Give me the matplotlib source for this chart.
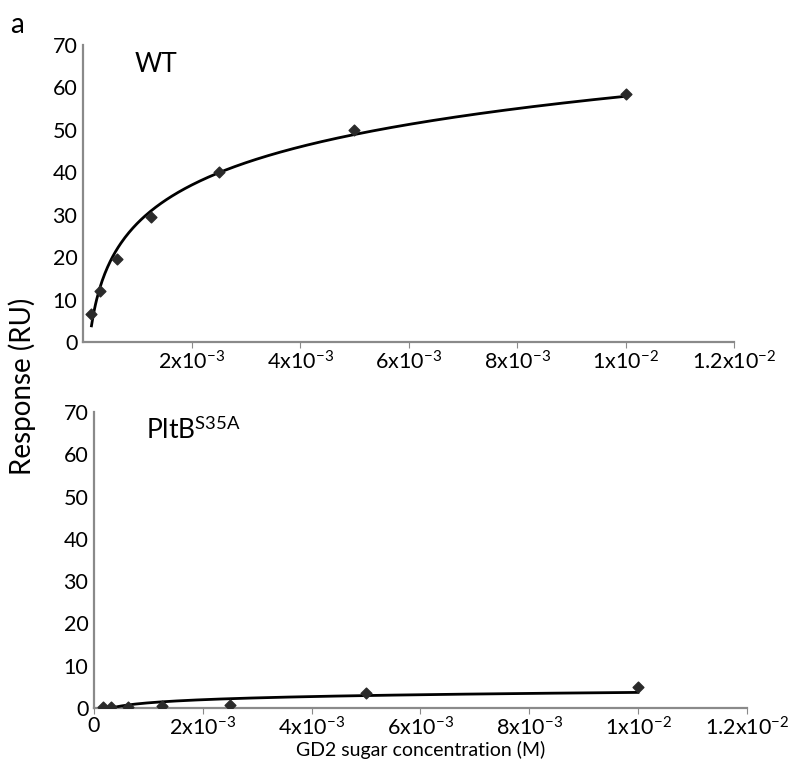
import numpy as np
import matplotlib.pyplot as plt

plt.rcParams['font.family'] = ['Lato', 'DejaVu Sans']
plt.rcParams['mathtext.fontset'] = 'custom'
plt.rcParams['mathtext.rm'] = 'Lato'
plt.rcParams['mathtext.it'] = 'Lato:italic'

# GD2 concentrations (M), two-fold dilution series
conc = np.array([1.5625e-4, 3.125e-4, 6.25e-4, 1.25e-3, 2.5e-3, 5e-3, 1e-2])
# responses (RU)
resp_wt = np.array([6.5, 12.0, 19.5, 29.5, 40.0, 50.0, 58.5])
resp_mut = np.array([0.2, 0.3, 0.3, 0.4, 0.6, 3.5, 4.9])

xticks = [0, 2e-3, 4e-3, 6e-3, 8e-3, 1e-2, 1.2e-2]
xticklabels = ['0', r'2x10$^{\mathregular{-3}}$', r'4x10$^{\mathregular{-3}}$',
               r'6x10$^{\mathregular{-3}}$', r'8x10$^{\mathregular{-3}}$',
               r'1x10$^{\mathregular{-2}}$', r'1.2x10$^{\mathregular{-2}}$']
yticks = [0, 10, 20, 30, 40, 50, 60, 70]

spine_col = '#8a8a8a'
mark_col = '#2a2a2a'

fig = plt.figure(figsize=(7.98, 7.73), dpi=100)
ax1 = fig.add_axes([0.104, 0.5576, 0.816, 0.3842])
ax2 = fig.add_axes([0.1178, 0.0841, 0.818, 0.383])


def log_trend(x, y):
    # logarithmic trendline, y = a ln(x) + b
    a, b = np.polyfit(np.log(x), y, 1)
    xs = np.linspace(x.min(), x.max(), 400)
    return xs, a * np.log(xs) + b


for ax, y, label, show_zero in [(ax1, resp_wt, 'WT', False),
                                (ax2, resp_mut, r'PltB$^{\mathregular{S35A}}$', True)]:
    xs, ys = log_trend(conc, y)
    ax.plot(xs, ys, color='black', lw=2, zorder=3)
    ax.scatter(conc, y, marker='D', s=30, color=mark_col, zorder=4)
    ax.set_xlim(0, 1.2e-2)
    ax.set_ylim(0, 70)
    ax.spines['top'].set_visible(False)
    ax.spines['right'].set_visible(False)
    for s in ['left', 'bottom']:
        ax.spines[s].set_color(spine_col)
        ax.spines[s].set_linewidth(1.6)
    if show_zero:
        ax.set_xticks(xticks)
        ax.set_xticklabels(xticklabels)
    else:
        ax.set_xticks(xticks[1:])
        ax.set_xticklabels(xticklabels[1:])
    ax.set_yticks(yticks)
    ax.tick_params(axis='x', length=4, color=spine_col, labelsize=15.5, pad=2)
    ax.tick_params(axis='y', length=0, labelsize=15.5, pad=4)
    ax.text(0.08, 0.91, label, transform=ax.transAxes, fontsize=19)

ax2.set_xlabel('GD2 sugar concentration (M)', fontsize=14, labelpad=1)
fig.text(0.028, 0.5, 'Response (RU)', rotation=90, fontsize=20, va='center', ha='center')
fig.text(0.013, 0.985, 'a', fontsize=20, va='top')

fig.savefig('out.png', dpi=100)
